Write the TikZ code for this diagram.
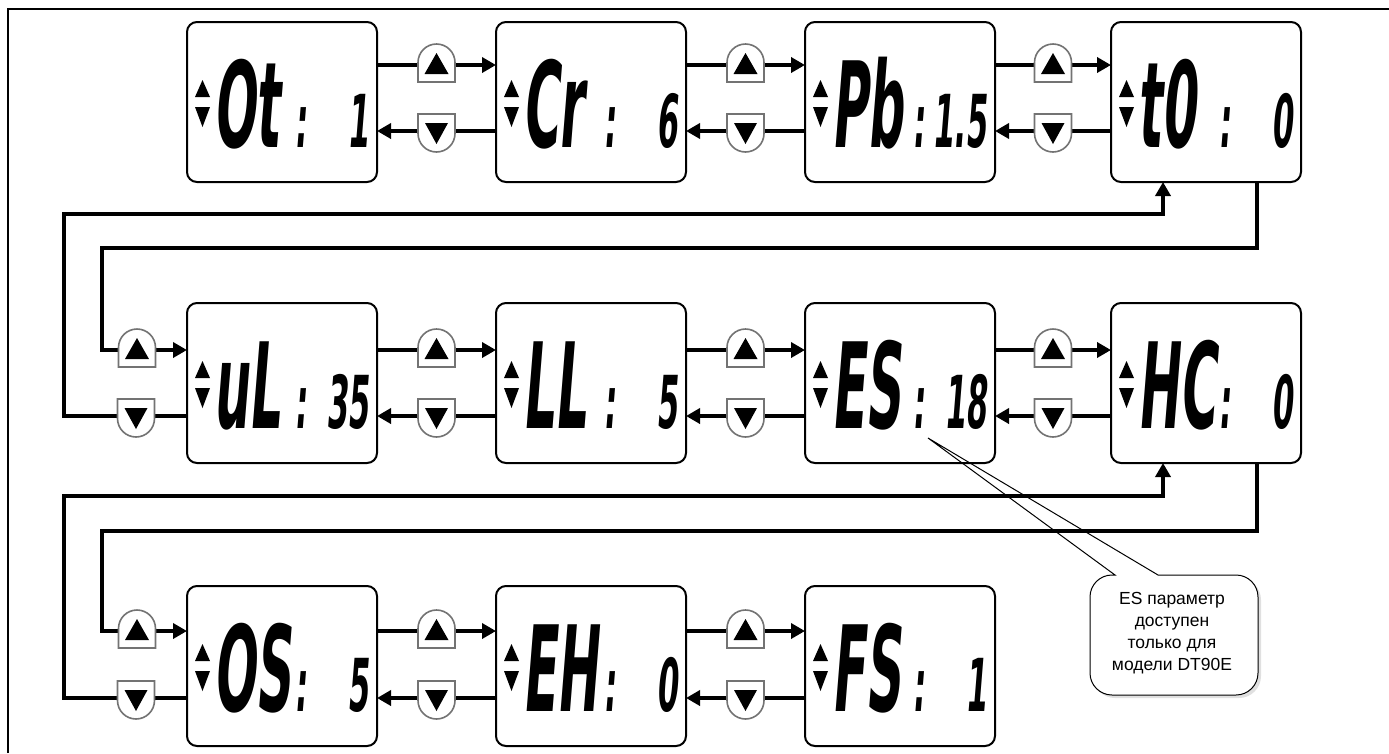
\documentclass[tikz,border=0pt]{standalone}
\usepackage{fontspec}
\newfontfamily\lcdfont{DejaVu Sans}[FakeStretch=0.42,FakeSlant=0.08]
\newfontfamily\notefont{Liberation Sans}
\usetikzlibrary{arrows.meta,calc}
\tikzset{
  lcdbox/.style={draw, line width=2pt, rounded corners=10pt, minimum width=190pt, minimum height=160pt, inner sep=0pt, outer sep=0pt, anchor=north west},
  codetext/.style={anchor=base west, inner sep=0pt, font=\lcdfont\bfseries\fontsize{119}{120}\selectfont},
  colontext/.style={anchor=base, inner sep=0pt, font=\lcdfont\bfseries\fontsize{73}{74}\selectfont},
  valtext/.style={anchor=base east, inner sep=0pt, font=\lcdfont\bfseries\fontsize{73}{74}\selectfont},
  conn/.style={line width=4pt},
  tip/.style={-{Triangle[length=14pt,width=15pt]}},
  btn/.style={draw=black!55, line width=1.6pt, fill=white},
}
\newcommand\lcdpanel[5]{%
  \node[lcdbox] (#1) at (#2,#3) {};
  \fill ($(#1.north west)+(8,75)$) -- ++(15,0) -- ++(-7.5,-17) -- cycle;
  \fill ($(#1.north west)+(8,85)$) -- ++(15,0) -- ++(-7.5,20) -- cycle;
  \node[codetext] (#1c) at ($(#1.north west)+(26,125)$) {#4};
  \node[colontext] (#1k) at ($(#1.north west)+(114,125)$) {:};
  \node[valtext] (#1v) at ($(#1.north west)+(182,125)$) {#5};
}
\newcommand\upbtn[1]{%
  \begin{scope}[shift={#1}]
    \draw[btn] (-18.5,17) -- (-18.5,-2.5) arc[start angle=180,end angle=0,radius=18.5pt] -- (18.5,17) -- cycle;
    \fill (0,-12) -- (12,9) -- (-12,9) -- cycle;
  \end{scope}}
\newcommand\dnbtn[1]{%
  \begin{scope}[shift={#1}]
    \draw[btn] (-18.5,-17) -- (18.5,-17) -- (18.5,2.5) arc[start angle=0,end angle=-180,radius=18.5pt] -- cycle;
    \fill (0,13) -- (11.5,-8) -- (-11.5,-8) -- cycle;
  \end{scope}}
\begin{document}
\begin{tikzpicture}[x=1pt,y=-1pt]
\useasboundingbox (0,0) rectangle (1389,753);
\fill[white] (0,0) rectangle (1389,753);
% outer frame
\draw[line width=2.5pt] (8,753) -- (8,9) -- (1389,9);

% callout (drawn first, under everything)
\fill[black!12] (1093,578) [rounded corners=22pt] -- (1261,578) -- (1261,698) -- (1093,698) -- cycle;
\draw[line width=1pt, fill=white] (1158,575) [rounded corners=22pt] -- (1258,575) -- (1258,695) -- (1090,695) -- (1090,575) [sharp corners] -- (1115,575) -- (928,438) -- cycle;
\node[font=\notefont\fontsize{17.5}{22}\selectfont, align=center, inner sep=0pt] (note) at (1172,633) {ES параметр\\доступен\\только для\\модели DT90E};

% helper coordinates
\coordinate (r1u) at (0,65);  \coordinate (r1d) at (0,131);
\coordinate (r2u) at (0,350); \coordinate (r2d) at (0,416);
\coordinate (r3u) at (0,631); \coordinate (r3d) at (0,698);
\coordinate (xd) at (1257,0); \coordinate (xu) at (1163,0);
\coordinate (xo) at (64,0);   \coordinate (xi) at (102,0);
\coordinate (ya1) at (0,248); \coordinate (yb1) at (0,214);
\coordinate (ya2) at (0,531); \coordinate (yb2) at (0,496);

% panels
\lcdpanel{b1}{187}{22}{Ot}{1}
\lcdpanel{b2}{496}{22}{Cr}{6}
\lcdpanel{b3}{805}{22}{Pb}{1.5}
\lcdpanel{b4}{1111}{22}{t0}{0}
\lcdpanel{b5}{187}{303}{uL}{35}
\lcdpanel{b6}{496}{303}{LL}{5}
\lcdpanel{b7}{805}{303}{ES}{18}
\lcdpanel{b8}{1111}{303}{HC}{0}
\lcdpanel{b9}{187}{586}{OS}{5}
\lcdpanel{b10}{496}{586}{EH}{0}
\lcdpanel{b11}{805}{586}{FS}{1}

% horizontal connectors within rows
\foreach \a/\b/\u/\d in {b1/b2/r1u/r1d, b2/b3/r1u/r1d, b3/b4/r1u/r1d,
                         b5/b6/r2u/r2d, b6/b7/r2u/r2d, b7/b8/r2u/r2d,
                         b9/b10/r3u/r3d, b10/b11/r3u/r3d}{
  \draw[conn,tip] (\a.east|-\u) -- (\b.west|-\u);
  \draw[conn,tip] (\b.west|-\d) -- (\a.east|-\d);
  \upbtn{($(\a.east|-\u)!0.5!(\b.west|-\u)$)}
  \dnbtn{($(\a.east|-\d)!0.5!(\b.west|-\d)$)}
}

% row 1 <-> row 2 loops
\draw[conn,tip] (b4.south -| xd) |- (xi |- ya1) |- (b5.west |- r2u);
\draw[conn,tip] (b5.west |- r2d) -| (xo |- yb1) -| (b4.south -| xu);
\upbtn{(137,350)}
\dnbtn{(136,416)}

% row 2 <-> row 3 loops
\draw[conn,tip] (b8.south -| xd) |- (xi |- ya2) |- (b9.west |- r3u);
\draw[conn,tip] (b9.west |- r3d) -| (xo |- yb2) -| (b8.south -| xu);
\upbtn{(137,631)}
\dnbtn{(136,698)}
\end{tikzpicture}
\end{document}
